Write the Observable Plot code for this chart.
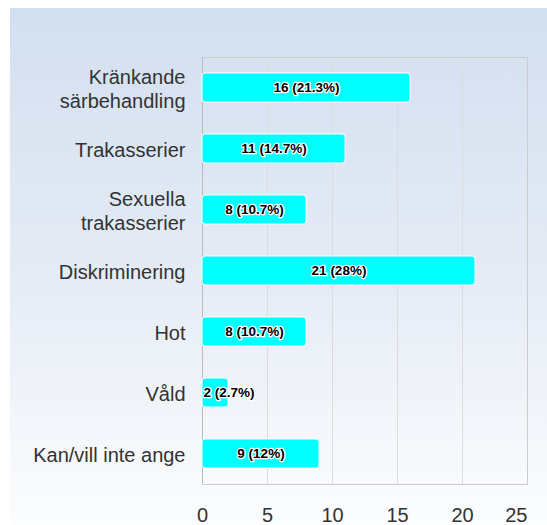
<!DOCTYPE html>
<html><head><meta charset="utf-8">
<script src="https://cdn.jsdelivr.net/npm/d3@7"></script>
<script src="https://cdn.jsdelivr.net/npm/@observablehq/plot@0.6"></script>
<style>
html,body{margin:0;padding:0;background:#fff;}
#wrap{position:relative;width:547px;height:525px;overflow:hidden;}
#bg{position:absolute;left:10px;top:8px;right:0;bottom:0;background:linear-gradient(to bottom,#d3dff0 0%,#e4ebf5 50%,#fcfdfe 100%);}
#chart{position:absolute;left:0;top:0;}
</style></head>
<body><div id="wrap"><div id="bg"></div><div id="chart"></div></div>
<script>
const categories = ["Kränkande\nsärbehandling","Trakasserier","Sexuella\ntrakasserier","Diskriminering","Hot","Våld","Kan/vill inte ange"];
const counts = [16, 11, 8, 21, 8, 2, 9];
const percents = ["21.3%","14.7%","10.7%","28%","10.7%","2.7%","12%"];
const xTicks = [0, 5, 10, 15, 20, 25];

const data = categories.map((c, i) => ({cat: c, v: counts[i], label: `${counts[i]} (${percents[i]})`}));
const font = "Liberation Sans, Arial, sans-serif";

const plot = Plot.plot({
  width: 547, height: 525,
  marginLeft: 202, marginRight: 20, marginTop: 57, marginBottom: 41,
  style: {background: "transparent", fontFamily: font, fontSize: "20px", color: "#333"},
  x: {domain: [0, 25], ticks: xTicks, label: null},
  y: {domain: categories, padding: 0, label: null},
  marks: [
    Plot.gridX(xTicks, {stroke: "#dcdcdc", strokeOpacity: 1}),
    Plot.frame({stroke: "#cccccc"}),
    Plot.ruleX([0], {stroke: "#bbbbbb"}),
    Plot.barX(data, {x: "v", y: "cat", fill: "#00ffff", stroke: "white", strokeWidth: 1, rx: 3, insetTop: 16, insetBottom: 16}),
    Plot.text(data.filter(d => d.v >= 4), {x: d => d.v / 2, y: "cat", text: "label", fill: "black", stroke: "white", strokeWidth: 2.5, fontWeight: "bold", fontSize: 13.5, fontFamily: font}),
    Plot.text(data.filter(d => d.v < 4), {x: 0, y: "cat", text: "label", textAnchor: "start", dx: 1, fill: "black", stroke: "white", strokeWidth: 2.5, fontWeight: "bold", fontSize: 13.5, fontFamily: font}),
    Plot.axisX(xTicks.filter(t => t < 25), {tickSize: 0, tickPadding: 23, fontSize: 20, fill: "#333", label: null}),
    Plot.axisX([25], {tickSize: 0, tickPadding: 23, fontSize: 20, fill: "#333", textAnchor: "end", label: null}),
    Plot.axisY({tickSize: 0, tickPadding: 17, fontSize: 20, fill: "#333", lineHeight: 1.2, label: null})
  ]
});
document.getElementById("chart").appendChild(plot);
</script>
</body></html>
